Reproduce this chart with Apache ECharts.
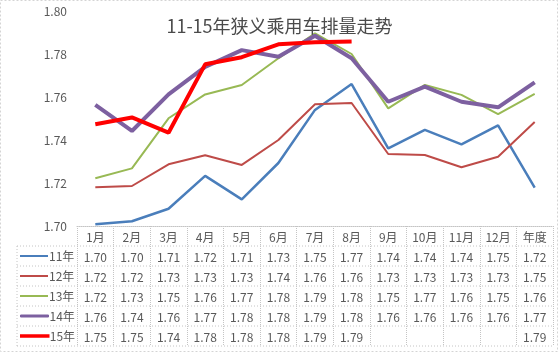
<!DOCTYPE html>
<html>
<head>
<meta charset="utf-8">
<script src="https://cdn.jsdelivr.net/npm/echarts@6/dist/echarts.min.js"></script>
<style>
    html, body { margin: 0; padding: 0; background: #fff; }
    #main { width: 559px; height: 353px; }
</style>
</head>
<body>
<div id="main"></div>
<script>
'use strict';

// 横轴分类
var categories = ['1月', '2月', '3月', '4月', '5月', '6月', '7月', '8月', '9月', '10月', '11月', '12月', '年度'];
var seriesNames = ['11年', '12年', '13年', '14年', '15年'];

// 各年排量
var s11 = [1.7008, 1.7022, 1.7080, 1.7233, 1.7124, 1.7293, 1.7540, 1.7660, 1.7361, 1.7447, 1.7380, 1.7468, 1.7178];
var s12 = [1.7180, 1.7186, 1.7287, 1.7329, 1.7284, 1.7400, 1.7566, 1.7572, 1.7335, 1.7330, 1.7273, 1.7322, 1.7484];
var s13 = [1.7222, 1.7268, 1.7501, 1.7612, 1.7656, 1.7780, 1.7896, 1.7800, 1.7547, 1.7656, 1.7610, 1.7520, 1.7614];
var s14 = [1.7563, 1.7442, 1.7612, 1.7740, 1.7818, 1.7787, 1.7885, 1.7780, 1.7578, 1.7648, 1.7578, 1.7552, 1.7668];
var s15 = [1.7473, 1.7505, 1.7434, 1.7752, 1.7785, 1.7845, 1.7855, 1.7858, null, null, null, null, 1.7860];

var yTicks = { min: 1.70, max: 1.80, interval: 0.02 };

var allData = [s11, s12, s13, s14, s15];
var colors = ['#4A7EBB', '#BE4B48', '#98B954', '#7D60A0', '#FF0000'];
var widths = [2.5, 2, 2, 4, 4];
var legendBorder = [0, 0, 0, 1, 1.5];

var chart = echarts.init(document.getElementById('main'));

var gridLeft = 77, gridRight = 6, gridTop = 11, gridBottom = 127;
var tableLeft = 17, rowH = 20;
var axisY = 353 - gridBottom;
var lineColor = '#c4c4c4';

// 表格横线
var graphics = [];
for (var r = 1; r <= seriesNames.length + 1; r++) {
    graphics.push({
        type: 'line',
        shape: { x1: tableLeft, y1: axisY + r * rowH, x2: 559 - gridRight, y2: axisY + r * rowH },
        style: { stroke: lineColor, lineWidth: 1, lineDash: [1, 2] },
        silent: true
    });
}
graphics.push({
    type: 'line',
    shape: { x1: tableLeft, y1: axisY + rowH, x2: tableLeft, y2: axisY + (seriesNames.length + 1) * rowH },
    style: { stroke: lineColor, lineWidth: 1, lineDash: [1, 2] },
    silent: true
});
// 外框
graphics.push({
    type: 'rect',
    shape: { x: 0.5, y: 0.5, width: 557, height: 351 },
    style: { fill: 'none', stroke: '#d4d4d4', lineWidth: 1, lineDash: [2, 2] },
    silent: true
});

var series = seriesNames.map(function (name, i) {
    return {
        name: name,
        type: 'line',
        data: allData[i],
        symbol: 'none',
        connectNulls: false,
        lineStyle: { color: colors[i], width: widths[i] },
        itemStyle: { color: colors[i] }
    };
});

// 每行一个图例，放在表格左列
var legends = seriesNames.map(function (name, i) {
    return {
        orient: 'vertical',
        left: 20,
        top: axisY + rowH * (i + 1),
        padding: 0,
        itemWidth: 28,
        itemHeight: 2,
        data: [{
            name: name,
            icon: 'rect',
            itemStyle: { color: colors[i], borderColor: colors[i], borderWidth: legendBorder[i] }
        }],
        textStyle: { fontSize: 12, color: '#595959', lineHeight: rowH, padding: [0, 0, 0, -4] }
    };
});

var option = {
    animation: false,
    textStyle: { fontFamily: 'Noto Sans CJK SC' },
    title: {
        text: '11-15年狭义乘用车排量走势',
        left: 'center',
        top: 12,
        textStyle: { fontSize: 18, fontWeight: 'normal', color: '#4a4a4a', fontFamily: 'Noto Sans CJK SC' }
    },
    legend: legends,
    grid: { left: gridLeft, right: gridRight, top: gridTop, bottom: gridBottom, containLabel: false },
    xAxis: {
        type: 'category',
        data: categories,
        boundaryGap: true,
        axisLine: { lineStyle: { color: lineColor, type: 'dotted' } },
        axisTick: {
            show: true,
            interval: 0,
            length: (seriesNames.length + 1) * rowH,
            lineStyle: { color: lineColor, type: 'dotted' }
        },
        axisLabel: {
            interval: 0,
            margin: 1,
            lineHeight: rowH,
            fontSize: 12,
            color: '#595959',
            formatter: function (value, idx) {
                var lines = [value];
                allData.forEach(function (arr) {
                    var v = arr[idx];
                    lines.push(v == null ? ' ' : v.toFixed(2));
                });
                return lines.join('\n');
            }
        },
        splitLine: { show: false }
    },
    yAxis: {
        type: 'value',
        min: yTicks.min,
        max: yTicks.max,
        interval: yTicks.interval,
        axisLine: { show: false },
        axisTick: { show: false },
        splitLine: { show: false },
        axisLabel: {
            margin: 10,
            fontSize: 12,
            color: '#595959',
            formatter: function (v) { return v.toFixed(2); }
        }
    },
    graphic: graphics,
    series: series
};

chart.setOption(option);
</script>
</body>
</html>
